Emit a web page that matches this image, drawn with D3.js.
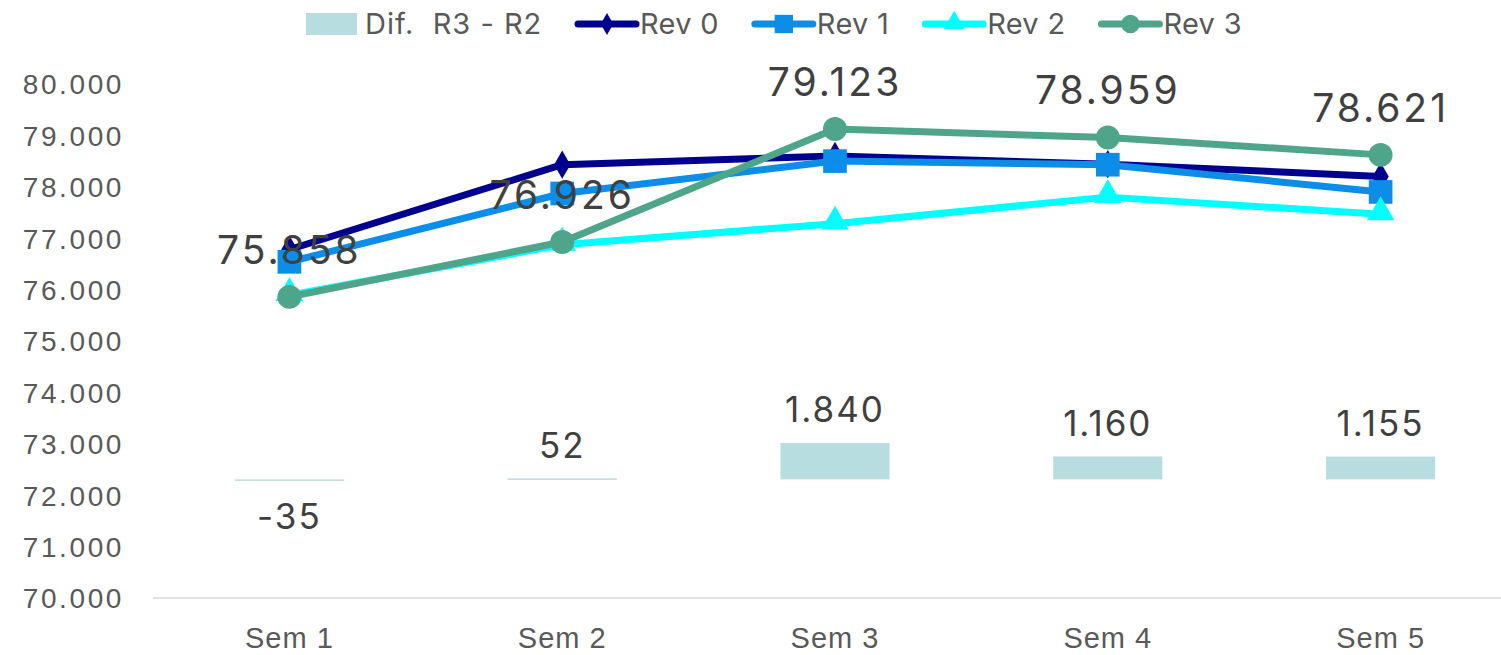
<!DOCTYPE html>
<html>
<head>
<meta charset="utf-8">
<script src="https://cdn.jsdelivr.net/npm/d3@7"></script>
<style>
  body { margin: 0; background: #fff; }
  svg { font-family: Inter, "Noto Sans", sans-serif; }
</style>
</head>
<body>
<script>
var categories = ['Sem 1', 'Sem 2', 'Sem 3', 'Sem 4', 'Sem 5']
var rev0 = [76780, 78430, 78600, 78440, 78200]
var rev1 = [76540, 77870, 78500, 78430, 77900]
var rev2 = [75893, 76874, 77283, 77799, 77466]
var rev3 = [75858, 76926, 79123, 78959, 78621]
var difR3R2 = [-35, 52, 1840, 1160, 1155]
var yTicks = [70000, 71000, 72000, 73000, 74000, 75000, 76000, 77000, 78000, 79000, 80000]

var width = 1501
var height = 655

var locale = d3.formatLocale({ decimal: ',', thousands: '.', grouping: [3], currency: ['', ''], minus: '-' })
var fmt = locale.format(',.0f')

var series = [
    { name: 'Rev 0', values: rev0, color: '#00008e', marker: 'diamond' },
    { name: 'Rev 1', values: rev1, color: '#0b8de8', marker: 'square' },
    { name: 'Rev 2', values: rev2, color: '#00ffff', marker: 'triangle' },
    { name: 'Rev 3', values: rev3, color: '#4fa589', marker: 'circle' }
]
var barColor = '#b8dde0'

var svg = d3.select('body').append('svg')
    .attr('width', width)
    .attr('height', height)

var x = d3.scaleBand()
    .domain(categories)
    .range([153, 1517])

var y = d3.scaleLinear()
    .domain([70000, 80000])
    .range([598, 84])

// secondary (hidden) axis for the difference bars
var y2 = d3.scaleLinear()
    .domain([-6000, 20000])
    .range([598, 84])

var cx = function (d, i) { return x(categories[i]) + x.bandwidth() / 2 }

// y axis labels
var yAxis = d3.axisLeft(y)
    .tickValues(yTicks)
    .tickFormat(fmt)
    .tickSize(0)
    .tickPadding(0)

var gy = svg.append('g')
    .attr('transform', 'translate(124,0)')
    .call(yAxis)
gy.select('.domain').remove()
gy.selectAll('text')
    .attr('fill', '#595959')
    .style('font-size', '28px')
    .style('letter-spacing', '2.6px')
    .attr('dy', '0.35em')

// x axis
var xAxis = d3.axisBottom(x).tickSize(0).tickPadding(29)
var gx = svg.append('g')
    .attr('transform', 'translate(0,598)')
    .call(xAxis)
gx.select('.domain').attr('stroke', '#d9d9d9').attr('stroke-width', 1.5)
    .attr('d', 'M153,0H1501')
gx.selectAll('text')
    .attr('fill', '#595959')
    .style('font-size', '29px')
    .style('letter-spacing', '1px')

// bars
var barW = x.bandwidth() * 0.4
svg.append('g').selectAll('rect')
    .data(difR3R2)
    .enter().append('rect')
    .attr('x', function (d, i) { return cx(d, i) - barW / 2 })
    .attr('y', function (d) { return Math.min(y2(d), y2(0)) })
    .attr('width', barW)
    .attr('height', function (d) { return Math.max(1.5, Math.abs(y2(d) - y2(0))) })
    .attr('fill', barColor)

// lines + markers
var symbolType = {
    diamond: d3.symbolDiamond,
    square: d3.symbolSquare,
    triangle: d3.symbolTriangle,
    circle: d3.symbolCircle
}
var symbolSize = { diamond: 230, square: 560, triangle: 330, circle: 450 }

var line = d3.line()
    .x(function (d, i) { return cx(d, i) })
    .y(function (d) { return y(d) })

series.forEach(function (s) {
    var g = svg.append('g')
    g.append('path')
        .datum(s.values)
        .attr('d', line)
        .attr('fill', 'none')
        .attr('stroke', s.color)
        .attr('stroke-width', 7)
        .attr('stroke-linejoin', 'round')
        .attr('stroke-linecap', 'round')
    g.selectAll('path.marker')
        .data(s.values)
        .enter().append('path')
        .attr('class', 'marker')
        .attr('d', d3.symbol().type(symbolType[s.marker]).size(symbolSize[s.marker]))
        .attr('transform', function (d, i) {
            var dy = s.marker === 'triangle' ? -2 : 0
            return 'translate(' + cx(d, i) + ',' + (y(d) + dy) + ')'
        })
        .attr('fill', s.color)
})

// bar labels
svg.append('g').selectAll('text')
    .data(difR3R2)
    .enter().append('text')
    .attr('x', function (d, i) { return cx(d, i) })
    .attr('y', function (d) { return d < 0 ? y2(d) + 37 : y2(d) - 33 })
    .attr('dy', '0.35em')
    .attr('text-anchor', 'middle')
    .attr('fill', '#404040')
    .style('font-size', '35px')
    .style('letter-spacing', '2px')
    .text(fmt)

// Rev 3 labels
svg.append('g').selectAll('text')
    .data(rev3)
    .enter().append('text')
    .attr('x', function (d, i) { return cx(d, i) })
    .attr('y', function (d) { return y(d) - 47 })
    .attr('dy', '0.35em')
    .attr('text-anchor', 'middle')
    .attr('fill', '#404040')
    .style('font-size', '39px')
    .style('letter-spacing', '3px')
    .text(fmt)

// legend
var legend = svg.append('g').attr('transform', 'translate(306,24)')
var lx = 0
legend.append('rect')
    .attr('x', lx).attr('y', -11).attr('width', 51).attr('height', 22)
    .attr('fill', barColor)
legend.append('text')
    .attr('x', lx + 59).attr('dy', '0.35em')
    .attr('fill', '#595959').style('font-size', '29px')
    .style('letter-spacing', '1px')
    .attr('xml:space', 'preserve')
    .text('Dif.  R3 - R2')
lx = 272
series.forEach(function (s) {
    legend.append('line')
        .attr('x1', lx).attr('x2', lx + 58)
        .attr('stroke', s.color).attr('stroke-width', 7)
        .attr('stroke-linecap', 'round')
    legend.append('path')
        .attr('d', d3.symbol().type(symbolType[s.marker]).size(symbolSize[s.marker] * 0.6))
        .attr('transform', 'translate(' + (lx + 29) + ',' + (s.marker === 'triangle' ? -1 : 0) + ')')
        .attr('fill', s.color)
    var t = legend.append('text')
        .attr('x', lx + 62).attr('dy', '0.35em')
        .attr('fill', '#595959').style('font-size', '29px')
        .style('letter-spacing', '0.3px')
        .text(s.name)
    lx += 62 + t.node().getComputedTextLength() + 36
})
</script>
</body>
</html>
